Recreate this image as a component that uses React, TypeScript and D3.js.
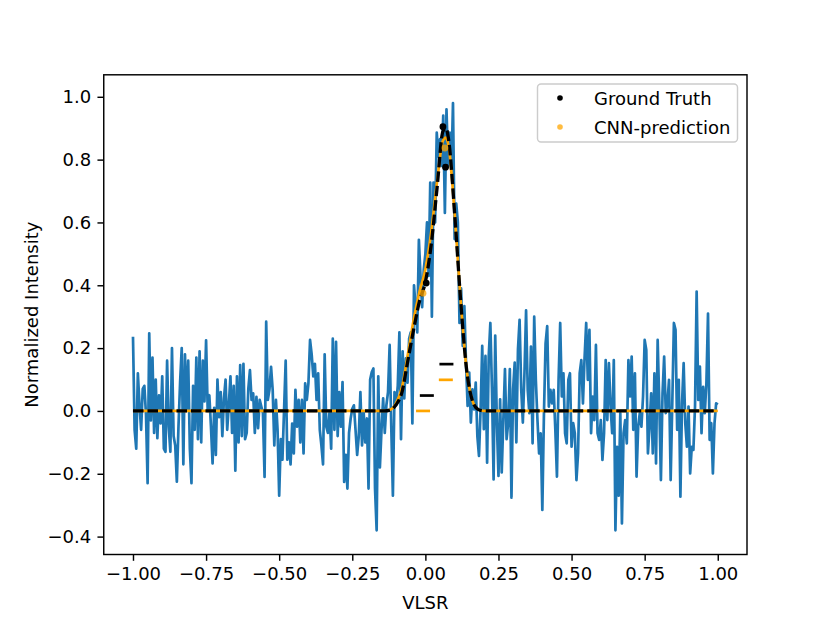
import React, { useEffect, useRef } from 'react';
import * as d3 from 'd3';

const WIDTH = 830;
const HEIGHT = 623;
const PLOT = { left: 103.75, right: 747, top: 74.8, bottom: 554.5 };
const FONT = 'DejaVu Sans, sans-serif';

// noisy spectrum in six stretches from VLSR -1 to 1
const noiseA = [
  0.236, -0.06, -0.12, 0.12, 0.02, -0.06, 0.07, 0.08, -0.01, -0.23,
  0.247, -0.03, 0.17, -0.07, 0.1, -0.087, 0.05, -0.04, 0.11, -0.12,
  -0.13, 0.16, -0.05, -0.13, 0.2, -0.08, -0.11, -0.225, -0.05, 0.09,
  0.2, -0.17, 0.18, 0.0, 0.16, -0.12, -0.23, 0.08, -0.06, 0.17,
  -0.09, 0.19, -0.1, 0.16, 0.03, 0.225, 0.0, 0.05, -0.05, -0.167,
  0.01, -0.14, 0.1, -0.02, 0.06, -0.08, 0.04, 0.1, -0.06, 0.02,
];
const noiseB = [
  0.11, -0.07, 0.08, -0.19, 0.11, -0.1, 0.146, -0.08, 0.15, -0.09,
  -0.07, 0.07, 0.13, 0.035, 0.056, -0.07, 0.045, -0.055, 0.035, 0.014,
  -0.007, -0.21, 0.284, 0.035, 0.067, 0.14, 0.067, -0.11, 0.035, -0.06,
  -0.27, -0.09, -0.155, 0.003, 0.16, -0.155, -0.1, -0.17, -0.04, -0.135,
  0.067, -0.05, 0.035, -0.1, 0.035, -0.135, 0.088, 0.035, 0.088, 0.226,
  0.18, 0.11, 0.15, 0.035, 0.12, -0.06, -0.11, -0.17, 0.18, -0.05,
];
const noiseC = [
  -0.07, -0.003, -0.12, 0.23, -0.06, 0.22, -0.08, 0.06, -0.05, 0.092,
  -0.226, -0.14, -0.247, -0.07, -0.024, 0.007, 0.018, -0.06, -0.14, -0.08,
  0.06, -0.11, -0.003, -0.1, -0.024, -0.247, 0.1, 0.124, 0.135, -0.247,
  -0.38, 0.11, -0.18, -0.06, 0.04, -0.07, 0.018, 0.06, 0.21, -0.05,
  -0.27, 0.06, 0.018, 0.08, 0.25, -0.09, 0.19, 0.04, 0.167, 0.09,
  0.23, 0.25, -0.04, 0.4, 0.33, 0.25, 0.545, 0.43, 0.33, 0.45,
  0.5,
];
const noiseD = [
  0.6, 0.43, 0.727, 0.3, 0.727, 0.6, 0.886, 0.81, 0.865, 0.78,
  0.94, 0.63, 0.96, 0.78, 0.886, 0.76, 0.98, 0.547, 0.66, 0.6,
  0.28, 0.39, 0.207, 0.334, 0.154, 0.016, 0.122, -0.037, 0.069, 0.005,
  0.09, -0.08, -0.143, 0.005, 0.207, -0.058, 0.175, -0.165, 0.175, 0.28,
  0.069, -0.218, 0.24, -0.037, -0.207, 0.037, -0.196, -0.027, 0.133, -0.09,
  -0.037, 0.133, -0.276, 0.069, 0.154, -0.1, 0.196, 0.29, 0.069, -0.037,
];
const noiseE = [
  0.12, 0.32, 0.067, -0.007, 0.205, -0.103, 0.3, 0.099, -0.029, -0.135,
  -0.071, -0.315, -0.007, 0.215, 0.27, 0.014, 0.067, 0.024, 0.067, -0.06,
  -0.209, 0.099, 0.28, 0.046, 0.12, -0.071, -0.103, 0.099, 0.12, -0.114,
  -0.039, -0.071, -0.22, -0.135, 0.12, 0.162, 0.024, 0.168, 0.28, 0.099,
  0.258, -0.071, 0.046, -0.029, 0.21, -0.071, -0.092, -0.029, -0.156, -0.071,
  0.162, -0.029, 0.152, 0.014, -0.071, 0.162, -0.38, -0.114, -0.27, -0.007,
];
const noiseF = [
  -0.358, -0.071, -0.029, -0.103, 0.162, 0.046, 0.173, -0.06, 0.12, -0.209,
  -0.05, -0.007, -0.05, 0.046, 0.226, 0.194, -0.135, -0.05, 0.056, -0.135,
  0.12, -0.167, 0.226, 0.024, -0.22, 0.056, 0.173, -0.007, 0.024, 0.099,
  -0.22, 0.024, 0.28, 0.258, -0.06, 0.099, -0.273, 0.024, 0.152, -0.039,
  -0.114, 0.014, -0.199, -0.114, -0.124, 0.014, 0.38, 0.035, 0.141, -0.071,
  0.077, -0.007, 0.088, 0.31, -0.092, -0.039, -0.199, -0.039, 0.024, 0.02,
];
const noise = [...noiseA, ...noiseB, ...noiseC, ...noiseD, ...noiseE, ...noiseF];

// fitted profiles
const profileX = [-1, -0.14, -0.12, -0.1, -0.08, -0.06, -0.04, -0.02, 0.0, 0.02, 0.04, 0.06, 0.07, 0.08, 0.1, 0.12, 0.14, 0.16, 0.18, 0.2, 1];
const truthY = [0, 0, 0.003, 0.02, 0.06, 0.16, 0.26, 0.35, 0.41, 0.53, 0.71, 0.89, 0.9, 0.86, 0.63, 0.36, 0.14, 0.035, 0.005, 0, 0];
const cnnY = [0, 0, 0.004, 0.025, 0.075, 0.18, 0.29, 0.38, 0.45, 0.57, 0.73, 0.86, 0.87, 0.84, 0.63, 0.36, 0.14, 0.035, 0.005, 0, 0];

// scatter points
const truthDotX = [0.003, 0.06, 0.069];
const truthDotY = [0.407, 0.905, 0.776];
const cnnDotX = [-0.008, 0.067];
const cnnDotY = [0.375, 0.837];
const truthBarX = [0.005, 0.072];
const truthBarY = [0.049, 0.149];
const cnnBarX = [-0.008, 0.07];
const cnnBarY = [0.0, 0.099];

const xTicks = [-1, -0.75, -0.5, -0.25, 0, 0.25, 0.5, 0.75, 1];
const yTicks = [-0.4, -0.2, 0, 0.2, 0.4, 0.6, 0.8, 1.0];

const BLUE = '#1f77b4';
const ORANGE = '#ffa500';

export default function App() {
  const ref = useRef<SVGSVGElement>(null);

  useEffect(() => {
    if (!ref.current) return;
    const svg = d3.select(ref.current);
    svg.selectAll('*').remove();

    const x = d3.scaleLinear().domain([-1.1, 1.1]).range([PLOT.left, PLOT.right]);
    const y = d3.scaleLinear().domain([-0.457, 1.07]).range([PLOT.bottom, PLOT.top]);
    const idx = d3.scaleLinear().domain([0, noise.length - 1]).range([-1, 1]);

    svg.append('rect').attr('width', WIDTH).attr('height', HEIGHT).attr('fill', 'white');

    // noisy spectrum
    const noiseLine = d3
      .line<number>()
      .x((_, i) => x(idx(i)))
      .y((d) => y(d));
    svg
      .append('path')
      .datum(noise)
      .attr('d', noiseLine)
      .attr('fill', 'none')
      .attr('stroke', BLUE)
      .attr('stroke-width', 2.7)
      .attr('stroke-linejoin', 'round');

    const profile = (vals: number[]) =>
      d3
        .line<number>()
        .x((_, i) => x(profileX[i]))
        .y((d) => y(d))
        .curve(d3.curveMonotoneX)(vals);

    svg
      .append('path')
      .attr('d', profile(cnnY))
      .attr('fill', 'none')
      .attr('stroke', ORANGE)
      .attr('stroke-width', 2.7);

    svg
      .append('path')
      .attr('d', profile(truthY))
      .attr('fill', 'none')
      .attr('stroke', 'black')
      .attr('stroke-width', 3.3)
      .attr('stroke-dasharray', '10.5,4');

    // dash markers
    const bars = (xs: number[], ys: number[], color: string) => {
      svg
        .append('g')
        .selectAll('line')
        .data(xs)
        .enter()
        .append('line')
        .attr('x1', (d) => x(d) - 7)
        .attr('x2', (d) => x(d) + 7)
        .attr('y1', (_, i) => y(ys[i]))
        .attr('y2', (_, i) => y(ys[i]))
        .attr('stroke', color)
        .attr('stroke-width', 2.7);
    };
    bars(truthBarX, truthBarY, 'black');
    bars(cnnBarX, cnnBarY, ORANGE);

    // dots
    svg
      .append('g')
      .selectAll('circle')
      .data(truthDotX)
      .enter()
      .append('circle')
      .attr('cx', (d) => x(d))
      .attr('cy', (_, i) => y(truthDotY[i]))
      .attr('r', 3.4)
      .attr('fill', 'black');
    svg
      .append('g')
      .selectAll('circle')
      .data(cnnDotX)
      .enter()
      .append('circle')
      .attr('cx', (d) => x(d))
      .attr('cy', (_, i) => y(cnnDotY[i]))
      .attr('r', 3.4)
      .attr('fill', ORANGE)
      .attr('opacity', 0.75);

    // axes
    const xAxis = d3
      .axisBottom(x)
      .tickValues(xTicks)
      .tickSize(6.3)
      .tickPadding(6.3)
      .tickFormat((d) => d3.format('.2f')(d as number));
    const yAxis = d3
      .axisLeft(y)
      .tickValues(yTicks)
      .tickSize(6.3)
      .tickPadding(6.3)
      .tickFormat((d) => d3.format('.1f')(d as number));

    const gx = svg.append('g').attr('transform', `translate(0, ${PLOT.bottom})`).call(xAxis);
    const gy = svg.append('g').attr('transform', `translate(${PLOT.left}, 0)`).call(yAxis);
    [gx, gy].forEach((g) => {
      g.select('.domain').remove();
      g.attr('font-family', FONT).attr('font-size', 18);
      g.selectAll('.tick line').attr('stroke', 'black').attr('stroke-width', 1.44);
      g.selectAll('.tick text').attr('fill', 'black');
    });

    svg
      .append('rect')
      .attr('x', PLOT.left)
      .attr('y', PLOT.top)
      .attr('width', PLOT.right - PLOT.left)
      .attr('height', PLOT.bottom - PLOT.top)
      .attr('fill', 'none')
      .attr('stroke', 'black')
      .attr('stroke-width', 1.44);

    svg
      .append('text')
      .attr('x', (PLOT.left + PLOT.right) / 2)
      .attr('y', 609)
      .attr('text-anchor', 'middle')
      .style('font-family', FONT)
      .style('font-size', '18px')
      .text('VLSR');

    svg
      .append('text')
      .attr('transform', `translate(38, ${(PLOT.top + PLOT.bottom) / 2}) rotate(-90)`)
      .attr('text-anchor', 'middle')
      .style('font-family', FONT)
      .style('font-size', '18px')
      .text('Normalized Intensity');

    // legend
    const lg = svg.append('g');
    lg.append('rect')
      .attr('x', 537.5)
      .attr('y', 84)
      .attr('width', 200)
      .attr('height', 58)
      .attr('rx', 3.5)
      .attr('fill', 'white')
      .attr('fill-opacity', 0.8)
      .attr('stroke', '#cccccc')
      .attr('stroke-width', 1.44);
    const items = [
      { label: 'Ground Truth', color: 'black', opacity: 1 },
      { label: 'CNN-prediction', color: ORANGE, opacity: 0.75 },
    ];
    items.forEach((it, i) => {
      const cy = 98 + i * 29;
      lg.append('circle')
        .attr('cx', 560)
        .attr('cy', cy)
        .attr('r', 2.8)
        .attr('fill', it.color)
        .attr('opacity', it.opacity);
      lg.append('text')
        .attr('x', 594)
        .attr('y', cy + 6.5)
        .style('font-family', FONT)
        .style('font-size', '18px')
        .text(it.label);
    });
  }, []);

  return (
    <svg
      ref={ref}
      width={WIDTH}
      height={HEIGHT}
      style={{ position: 'absolute', left: 0, top: 0, display: 'block' }}
    />
  );
}
